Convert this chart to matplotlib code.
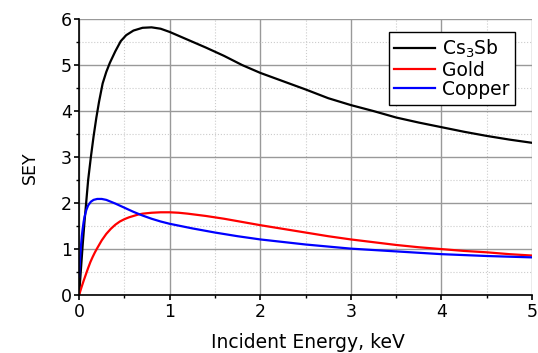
import matplotlib
matplotlib.use("Agg")
import matplotlib.pyplot as plt
from matplotlib.ticker import MultipleLocator

plt.rcParams['font.family'] = ['DejaVu Sans']

cs_x = [0.0, 0.02, 0.04, 0.06, 0.08, 0.10, 0.13, 0.16, 0.19, 0.22, 0.26, 0.30, 0.34, 0.40, 0.46, 0.52, 0.60, 0.70, 0.80, 0.90, 1.0, 1.2, 1.4, 1.6, 1.8, 2.0, 2.25, 2.5, 2.75, 3.0, 3.25, 3.5, 3.75, 4.0, 4.25, 4.5, 4.75, 5.0]
cs_y = [0.0, 0.55, 1.1, 1.6, 2.05, 2.5, 3.0, 3.45, 3.85, 4.2, 4.6, 4.85, 5.05, 5.3, 5.52, 5.65, 5.75, 5.81, 5.82, 5.79, 5.72, 5.55, 5.38, 5.2, 5.0, 4.83, 4.65, 4.47, 4.28, 4.13, 4.0, 3.86, 3.75, 3.65, 3.55, 3.46, 3.38, 3.31]

au_x = [0.0, 0.025, 0.05, 0.075, 0.1, 0.125, 0.15, 0.175, 0.2, 0.25, 0.3, 0.35, 0.4, 0.45, 0.5, 0.55, 0.6, 0.65, 0.7, 0.8, 0.9, 1.0, 1.1, 1.2, 1.4, 1.6, 1.8, 2.0, 2.25, 2.5, 2.75, 3.0, 3.25, 3.5, 3.75, 4.0, 4.25, 4.5, 4.75, 5.0]
au_y = [0.0, 0.16, 0.31, 0.45, 0.59, 0.72, 0.83, 0.93, 1.02, 1.19, 1.33, 1.44, 1.53, 1.6, 1.65, 1.69, 1.72, 1.75, 1.77, 1.79, 1.8, 1.8, 1.79, 1.77, 1.72, 1.66, 1.59, 1.52, 1.44, 1.36, 1.28, 1.21, 1.15, 1.09, 1.04, 1.0, 0.96, 0.93, 0.89, 0.86]

cu_x = [0.0, 0.01, 0.02, 0.03, 0.04, 0.05, 0.06, 0.08, 0.10, 0.13, 0.16, 0.20, 0.25, 0.30, 0.35, 0.40, 0.50, 0.60, 0.70, 0.80, 0.90, 1.0, 1.25, 1.5, 1.75, 2.0, 2.5, 3.0, 3.5, 4.0, 4.5, 5.0]
cu_y = [0.4, 0.75, 1.05, 1.28, 1.45, 1.59, 1.7, 1.85, 1.95, 2.03, 2.07, 2.09, 2.09, 2.07, 2.03, 1.99, 1.9, 1.81, 1.73, 1.66, 1.6, 1.55, 1.45, 1.36, 1.28, 1.21, 1.1, 1.01, 0.95, 0.89, 0.85, 0.82]

fig = plt.figure(figsize=(5.38, 3.53), dpi=100)
ax = fig.add_axes([0.147, 0.164, 0.842, 0.782])

ax.plot(cs_x, cs_y, color='black', lw=1.6, label='Cs$_3$Sb')
ax.plot(au_x, au_y, color='red', lw=1.6, label='Gold')
ax.plot(cu_x, cu_y, color='blue', lw=1.6, label='Copper')

ax.set_xlim(0, 5)
ax.set_ylim(0, 6)
ax.xaxis.set_major_locator(MultipleLocator(1))
ax.xaxis.set_minor_locator(MultipleLocator(0.5))
ax.yaxis.set_major_locator(MultipleLocator(1))
ax.yaxis.set_minor_locator(MultipleLocator(0.5))
ax.grid(which='major', color='#999999', lw=1.0, ls='-')
ax.grid(which='minor', color='#cccccc', lw=0.8, ls=':')
ax.set_axisbelow(True)

for s in ['top', 'right']:
    ax.spines[s].set_visible(False)
for s in ['left', 'bottom']:
    ax.spines[s].set_linewidth(1.2)
ax.tick_params(which='major', direction='out', length=3.5, width=1.2, labelsize=12.5)
ax.tick_params(which='minor', direction='out', length=2.2, width=1.0)
ax.tick_params(axis='x', which='major', pad=2)
ax.tick_params(axis='y', which='major', pad=1.5)

ax.set_xlabel('Incident Energy, keV', fontsize=13.5, va='baseline')
ax.xaxis.set_label_coords(0.505, -0.192)
ax.set_ylabel('SEY', fontsize=12.5, va='baseline')
ax.yaxis.set_label_coords(-0.097, 0.46)

leg = ax.legend(loc='upper right', bbox_to_anchor=(0.9625, 0.952), fontsize=13.5,
                frameon=True, fancybox=False, edgecolor='black', framealpha=1,
                handlelength=2.2, borderpad=0.3, labelspacing=0.02, handletextpad=0.35,
                borderaxespad=0)
leg.get_frame().set_linewidth(1.0)

fig.savefig('out.png', dpi=100)
